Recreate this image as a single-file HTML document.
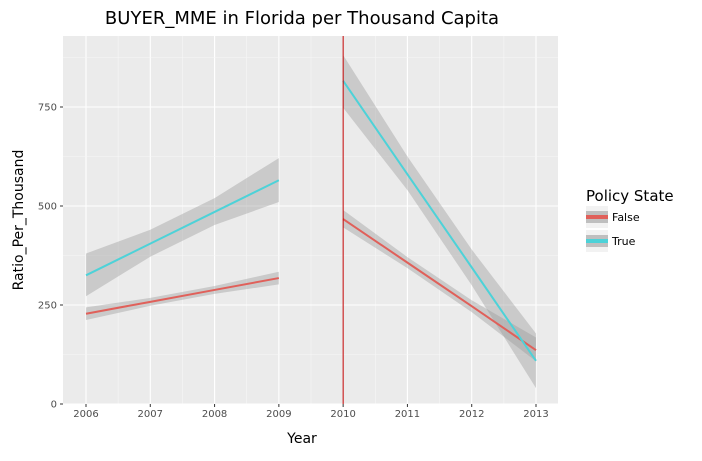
<!DOCTYPE html>
<html><head><meta charset="utf-8"><style>
body{margin:0;background:#fff;font-family:"DejaVu Sans","Liberation Sans",sans-serif}
svg text{font-family:"DejaVu Sans","Liberation Sans",sans-serif}
</style></head><body>
<svg id="chart" width="702" height="457" viewBox="0 0 702 457" xmlns="http://www.w3.org/2000/svg">
<text x="302" y="24" text-anchor="middle" font-size="18" fill="#000">BUYER_MME in Florida per Thousand Capita</text>
<rect x="63" y="36" width="495" height="368" fill="#ebebeb"/>
<g id="grid"></g><g id="bands"></g><g id="lines"></g><g id="axes"></g>
<text x="302" y="443" text-anchor="middle" font-size="14">Year</text>
<text transform="translate(23,220) rotate(-90)" text-anchor="middle" font-size="14">Ratio_Per_Thousand</text>
<g>
<text x="586" y="201" font-size="15">Policy State</text>
<g>
<rect x="586" y="206" width="22" height="22" fill="#f2f2f2"/><rect x="586" y="211" width="22" height="12" fill="#bfbfbf"/><rect x="586" y="215" width="22" height="4" fill="#e0605a"/>
<text x="612" y="221" font-size="11">False</text></g>
<g>
<rect x="586" y="230" width="22" height="22" fill="#f2f2f2"/><rect x="586" y="235" width="22" height="12" fill="#bfbfbf"/><rect x="586" y="239" width="22" height="4" fill="#4dd2d8"/>
<text x="612" y="245" font-size="11">True</text></g>
</g>
</svg>
<script>
const years=[2006,2007,2008,2009,2010,2011,2012,2013];
const falseMean=[228,258,288,318,467,357,247,136];
const falseLow=[212,248,278,302,446,343,232,108];
const falseHigh=[244,268,298,334,490,371,262,168];
const trueMean=[325,405,485,565,816,580,345,109];
const trueLow=[272,372,452,510,748,540,300,40];
const trueHigh=[380,440,520,621,881,625,390,178];
const yTicks=[0,250,500,750];
const xTicks=[2006,2007,2008,2009,2010,2011,2012,2013];
const NS="http://www.w3.org/2000/svg";
const x=v=>86+(v-2006)*450/7;
const y=v=>404-v*0.396;
function mk(tag,attrs,parent){const e=document.createElementNS(NS,tag);for(const k in attrs)e.setAttribute(k,attrs[k]);document.getElementById(parent).appendChild(e);return e;}
for(let i=0;i<xTicks.length;i++){
 const gx=x(xTicks[i]);
 let l=mk('line',{x1:gx,x2:gx,y1:36,y2:404,stroke:'#fff','stroke-width':1.1},'grid');
 
 
 if(i<xTicks.length-1){const mx=x(xTicks[i]+0.5);let m=mk('line',{x1:mx,x2:mx,y1:36,y2:404,stroke:'#f7f7f7','stroke-width':0.6},'grid');
 
 }
 const t=mk('text',{x:gx,y:417,'text-anchor':'middle','font-size':10,fill:'#4d4d4d'},'axes');t.textContent=xTicks[i];
 
 
 mk('line',{x1:gx,x2:gx,y1:404,y2:407,stroke:'#333'},'axes');
}
for(let i=0;i<yTicks.length;i++){
 const gy=y(yTicks[i]);
 let l=mk('line',{x1:63,x2:558,y1:gy,y2:gy,stroke:'#fff','stroke-width':1.1},'grid');
 
 
 const my=y(yTicks[i]+125);let m=mk('line',{x1:63,x2:558,y1:my,y2:my,stroke:'#f7f7f7','stroke-width':0.6},'grid');
 
 
 const t=mk('text',{x:57,y:gy+3.5,'text-anchor':'end','font-size':10,fill:'#4d4d4d'},'axes');t.textContent=yTicks[i];
 
 
 mk('line',{x1:60,x2:63,y1:gy,y2:gy,stroke:'#333'},'axes');
}
const segs=[[0,4],[4,8]];
function draw(mean,lo,hi,color,name){
 segs.forEach(([a,b])=>{
  let pts=[];for(let i=a;i<b;i++)pts.push(x(years[i])+','+y(hi[i]));
  for(let i=b-1;i>=a;i--)pts.push(x(years[i])+','+y(lo[i]));
  const p=mk('polygon',{points:pts.join(' '),fill:'#999','fill-opacity':0.4},'bands');
  
  
  let lp=[];for(let i=a;i<b;i++)lp.push(x(years[i])+','+y(mean[i]));
  const l=mk('polyline',{points:lp.join(' '),fill:'none',stroke:color,'stroke-width':2},'lines');
  
  
 });
}
draw(falseMean,falseLow,falseHigh,'#e0605a','false');
draw(trueMean,trueLow,trueHigh,'#4dd2d8','true');
const v=mk('line',{x1:x(2010),x2:x(2010),y1:36,y2:404,stroke:'#c00000','stroke-width':1},'lines');


</script>
</body></html>
